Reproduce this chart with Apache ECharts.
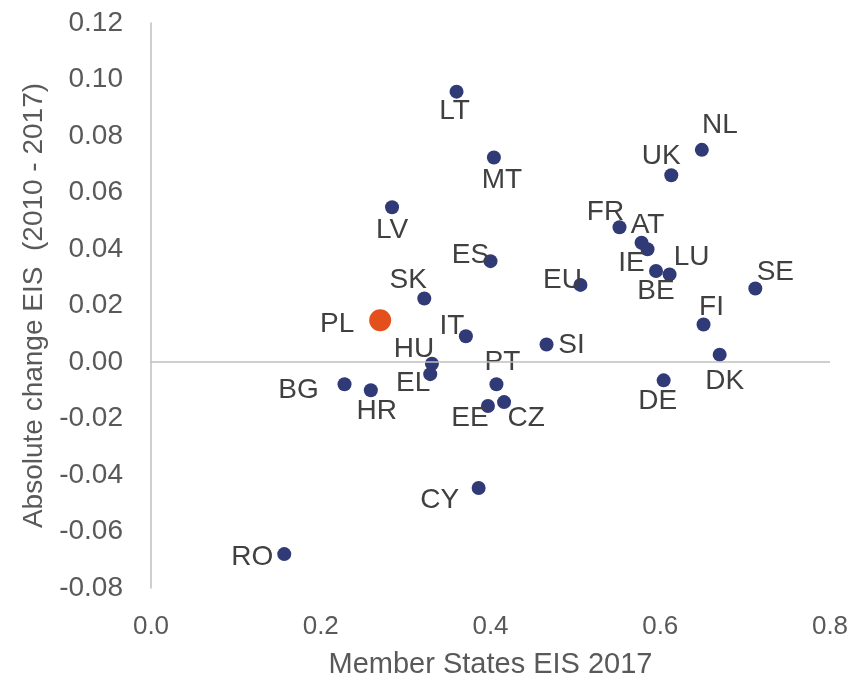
<!DOCTYPE html>
<html>
<head>
<meta charset="utf-8">
<script src="https://cdn.jsdelivr.net/npm/echarts@6/dist/echarts.min.js"></script>
<style>
  html, body { margin: 0; padding: 0; background: #ffffff; }
  #chart { width: 864px; height: 684px; }
</style>
</head>
<body>
<div id="chart"></div>
<script>
// ---- data ----
const countries = ['LT','MT','NL','UK','LV','FR','AT','IE','BE','LU','SE','EU','ES','SK','PL','IT','SI','HU','EL','BG','HR','PT','EE','CZ','CY','FI','DK','DE','RO'];
const eis2017 = [0.360,0.404,0.649,0.613,0.284,0.552,0.578,0.585,0.595,0.611,0.712,0.506,0.400,0.322,0.270,0.371,0.466,0.331,0.329,0.228,0.259,0.407,0.397,0.416,0.386,0.651,0.670,0.604,0.157];
const absChange = [0.0957,0.0724,0.0751,0.0661,0.0548,0.0477,0.0422,0.0399,0.0322,0.0310,0.0260,0.0273,0.0357,0.0225,0.0148,0.0091,0.0062,-0.0006,-0.0043,-0.0079,-0.0100,-0.0079,-0.0156,-0.0142,-0.0446,0.0133,0.0026,-0.0065,-0.0680];
const highlighted = 'PL';
const xTicks = [0, 0.2, 0.4, 0.6, 0.8];
const yTicks = [-0.08, -0.06, -0.04, -0.02, 0, 0.02, 0.04, 0.06, 0.08, 0.10, 0.12];

// ---- label layout (pixel offsets from each marker) ----
const labelOffsets = {
  LT:[-2,20], MT:[8,23], NL:[18,-25], UK:[-10,-19], LV:[0,23], FR:[-14,-15],
  AT:[6,-18], IE:[-16,14], BE:[0,20], LU:[22,-17], SE:[20,-16], EU:[-18,-5],
  ES:[-20,-6], SK:[-16,-18], PL:[-43,4], IT:[-14,-10], SI:[25,1], HU:[-18,-14],
  EL:[-17,9], BG:[-46,6], HR:[6,21], PT:[6,-22], EE:[-18,12], CZ:[22,16],
  CY:[-39,12], FI:[8,-17], DK:[5,27], DE:[-6,21], RO:[-32,3]
};

const FONT = "'Liberation Sans', Arial, sans-serif";
const DOT = '#2f3a76';
const ORANGE = '#e4501b';

const seriesData = countries.map((c, i) => {
  const hi = c === highlighted;
  return {
    name: c,
    value: [eis2017[i], absChange[i]],
    symbolSize: hi ? 22 : 14,
    itemStyle: { color: hi ? ORANGE : DOT, opacity: 1 },
    label: { offset: labelOffsets[c] || [0, 0] }
  };
});

const chart = echarts.init(document.getElementById('chart'), null, { renderer: 'canvas' });
chart.setOption({
  animation: false,
  backgroundColor: '#ffffff',
  grid: { left: 151, right: 34, top: 23, bottom: 94, containLabel: false },
  xAxis: {
    type: 'value',
    min: xTicks[0], max: xTicks[xTicks.length - 1], interval: 0.2,
    name: 'Member States EIS 2017',
    nameLocation: 'middle', nameGap: 62,
    nameTextStyle: { fontFamily: FONT, fontSize: 29, color: '#595959' },
    axisLine: { show: false, onZero: false },
    axisTick: { show: false },
    splitLine: { show: false },
    axisLabel: {
      fontFamily: FONT, fontSize: 26, color: '#595959', margin: 26,
      formatter: v => v.toFixed(1)
    }
  },
  yAxis: {
    type: 'value',
    min: yTicks[0], max: yTicks[yTicks.length - 1], interval: 0.02,
    name: 'Absolute change EIS  (2010 - 2017)',
    nameLocation: 'middle', nameGap: 98,
    nameTextStyle: { fontFamily: FONT, fontSize: 28, color: '#595959' },
    axisLine: { show: true, onZero: false, lineStyle: { color: '#bfbfbf', width: 1.5 } },
    axisTick: { show: false },
    splitLine: { show: false },
    axisLabel: {
      fontFamily: FONT, fontSize: 28, color: '#595959', margin: 28,
      formatter: v => v.toFixed(2)
    }
  },
  series: [{
    type: 'scatter',
    data: seriesData,
    symbol: 'circle',
    itemStyle: { opacity: 1 },
    label: {
      show: true,
      position: 'inside',
      formatter: '{b}',
      fontFamily: FONT,
      fontSize: 28,
      color: '#404040'
    },
    emphasis: { disabled: true },
    markLine: {
      silent: true,
      symbol: ['none', 'none'],
      label: { show: false },
      lineStyle: { color: '#bfbfbf', width: 1.5, type: 'solid' },
      data: [{ yAxis: 0 }]
    }
  }]
});
</script>
</body>
</html>
